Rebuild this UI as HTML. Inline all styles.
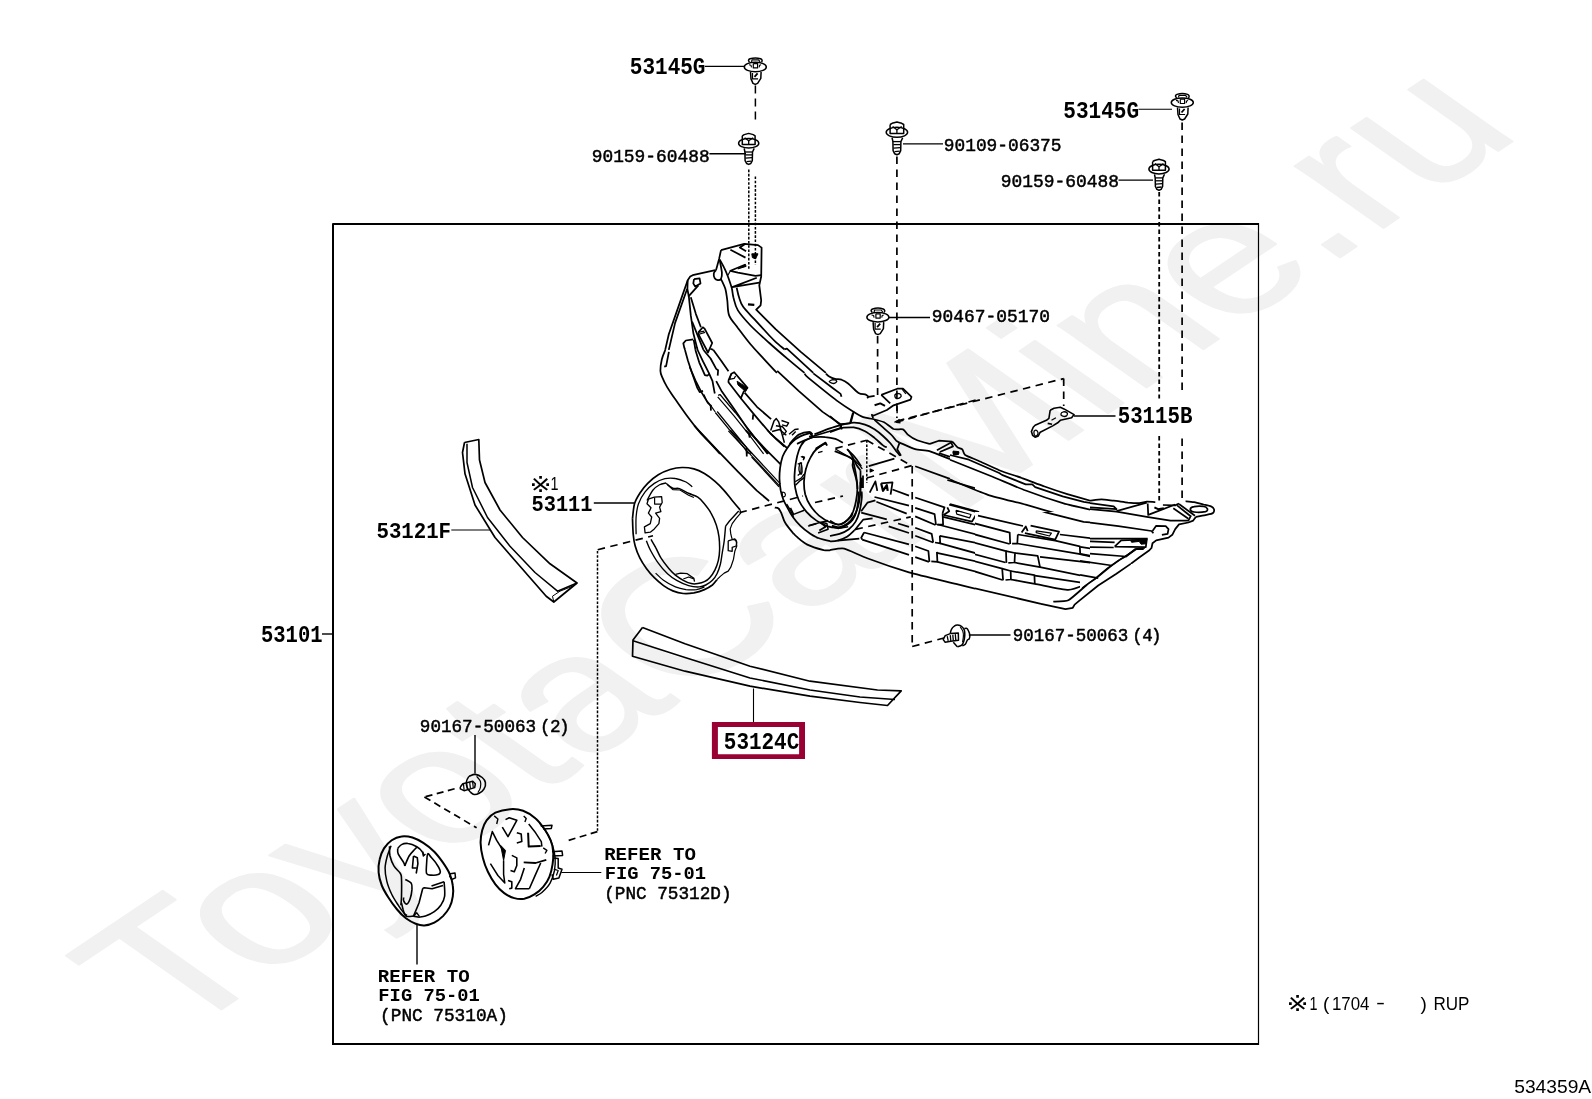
<!DOCTYPE html>
<html><head><meta charset="utf-8"><title>53101 Radiator Grille</title>
<style>
html,body{margin:0;padding:0;background:#fff;}
body{width:1592px;height:1099px;overflow:hidden;position:relative;}
svg{position:absolute;left:0;top:0;display:block;will-change:transform;}
.m{font-family:"Liberation Mono","DejaVu Sans Mono",monospace;font-weight:bold;fill:#000;}
.s{font-family:"Liberation Sans","DejaVu Sans",sans-serif;fill:#000;}
.wm{font-family:"Liberation Sans","DejaVu Sans",sans-serif;fill:#f1f1f1;}
</style></head><body>
<svg width="1592" height="1099" viewBox="0 0 1592 1099" stroke-linejoin="round">
<defs><clipPath id="cT7"><rect x="820" y="470" width="155" height="130"/></clipPath><clipPath id="cT8"><path d="M975 512H1090V564H1080V626H975Z"/></clipPath><clipPath id="cT9"><rect x="1090" y="440" width="160" height="124"/></clipPath><clipPath id="cT10"><rect x="940" y="380" width="150" height="132"/></clipPath></defs>
<text class="wm" font-size="100" stroke="#f1f1f1" stroke-width="1.1" transform="matrix(1.706 -1.147 1.67 1.175 177.2 1039.0)" x="0" y="0">ToyotaCarMine.ru</text>
<path d="M333 1044 V224 H1258.5" fill="none" stroke="#000" stroke-width="2"/>
<path d="M1258.5 223 V1045" fill="none" stroke="#000" stroke-width="1.2"/>
<path d="M332 1044 H1259" fill="none" stroke="#000" stroke-width="2"/>
<text class="m" font-size="23.92" transform="translate(629.85 74.20) scale(0.8781 1)" xml:space="preserve">53145G</text>
<text class="m" font-size="23.92" transform="translate(1063.25 117.50) scale(0.8805 1)" xml:space="preserve">53145G</text>
<text class="m" font-size="23.17" transform="translate(1117.66 423.00) scale(0.8978 1)" xml:space="preserve">53115B</text>
<text class="m" font-size="22.42" transform="translate(531.48 511.00) scale(0.9074 1)" xml:space="preserve">53111</text>
<text class="m" font-size="22.42" transform="translate(376.46 537.50) scale(0.9239 1)" xml:space="preserve">53121F</text>
<text class="m" font-size="23.17" transform="translate(260.97 641.50) scale(0.8856 1)" xml:space="preserve">53101</text>
<text class="m" font-size="23.47" transform="translate(723.85 749.30) scale(0.8924 1)" xml:space="preserve">53124C</text>
<text class="m" font-size="18.83" style="font-weight:normal" stroke="#000" stroke-width="0.5" transform="translate(591.71 161.60) scale(0.9492 1)" xml:space="preserve">90159-60488</text>
<text class="m" font-size="18.98" style="font-weight:normal" stroke="#000" stroke-width="0.5" transform="translate(943.81 150.70) scale(0.9401 1)" xml:space="preserve">90109-06375</text>
<text class="m" font-size="18.98" style="font-weight:normal" stroke="#000" stroke-width="0.5" transform="translate(1000.70 186.60) scale(0.9449 1)" xml:space="preserve">90159-60488</text>
<text class="m" font-size="18.54" style="font-weight:normal" stroke="#000" stroke-width="0.5" transform="translate(931.70 322.40) scale(0.9661 1)" xml:space="preserve">90467-05170</text>
<text class="m" font-size="18.68" style="font-weight:normal" stroke="#000" stroke-width="0.5" transform="translate(1012.82 641.20) scale(0.9369 1)" xml:space="preserve">90167-50063<tspan dx="4.27">(</tspan><tspan dx="-0.64">4</tspan><tspan dx="-1.81">)</tspan></text>
<text class="m" font-size="18.39" style="font-weight:normal" stroke="#000" stroke-width="0.5" transform="translate(419.82 732.30) scale(0.9587 1)" xml:space="preserve">90167-50063<tspan dx="4.17">(</tspan><tspan dx="-0.63">2</tspan><tspan dx="-1.77">)</tspan></text>
<text class="m" font-size="17.45" transform="translate(604.14 859.60) scale(1.0961 1)" xml:space="preserve">REFER TO</text>
<text class="m" font-size="18.39" transform="translate(604.66 879.20) scale(1.0211 1)" xml:space="preserve">FIG 75-01</text>
<text class="m" font-size="17.94" style="font-weight:normal" stroke="#000" stroke-width="0.5" transform="translate(604.22 898.80) scale(0.9862 1)" xml:space="preserve">(PNC 75312D)</text>
<text class="m" font-size="17.45" transform="translate(377.84 982.00) scale(1.0961 1)" xml:space="preserve">REFER TO</text>
<text class="m" font-size="18.39" transform="translate(378.36 1001.30) scale(1.0211 1)" xml:space="preserve">FIG 75-01</text>
<text class="m" font-size="17.94" style="font-weight:normal" stroke="#000" stroke-width="0.5" transform="translate(380.11 1021.30) scale(0.9894 1)" xml:space="preserve">(PNC 75310A)</text>
<text class="s" font-size="19" x="1514.2" y="1092.5" textLength="77" lengthAdjust="spacingAndGlyphs">534359A</text>
<text class="s" font-size="24" transform="translate(1286.6 1011.0) scale(1.1 0.87)">※</text>
<text class="s" font-size="19" x="1309.5" y="1009.8" textLength="8" lengthAdjust="spacingAndGlyphs">1</text>
<text class="s" font-size="19" x="1323" y="1009.5">(</text>
<text class="s" font-size="19" x="1332" y="1009.8" textLength="37.5" lengthAdjust="spacingAndGlyphs">1704</text>
<text class="s" font-size="19" x="1376" y="1008.5" textLength="9" lengthAdjust="spacingAndGlyphs">-</text>
<text class="s" font-size="19" x="1420.5" y="1009.5">)</text>
<text class="s" font-size="19" x="1433.5" y="1009.8" textLength="36" lengthAdjust="spacingAndGlyphs">RUP</text>
<text class="s" font-size="24" transform="translate(529.4 491.5) scale(1.1 0.87)">※</text>
<text class="s" font-size="19" x="550.5" y="489.8" textLength="8" lengthAdjust="spacingAndGlyphs">1</text>
<path d="M704.8 66.4 L744.0 66.4" fill="none" stroke="#000" stroke-width="1.1"/>
<path d="M709.4 153.7 L746.0 153.7" fill="none" stroke="#000" stroke-width="1.4"/>
<path d="M903.0 143.9 L943.0 143.9" fill="none" stroke="#000" stroke-width="1.2"/>
<path d="M1138.5 109.2 L1172.0 109.2" fill="none" stroke="#000" stroke-width="1.1"/>
<path d="M1118.5 180.2 L1153.0 180.2" fill="none" stroke="#000" stroke-width="1.2"/>
<path d="M886.0 317.5 L930.0 317.5" fill="none" stroke="#000" stroke-width="1.4"/>
<path d="M1074.0 415.9 L1115.5 415.9" fill="none" stroke="#000" stroke-width="1.5"/>
<path d="M593.8 503.0 L634.0 503.0" fill="none" stroke="#000" stroke-width="1.3"/>
<path d="M451.3 530.0 L490.0 530.0" fill="none" stroke="#000" stroke-width="1.1"/>
<path d="M322.0 634.0 L333.0 634.0" fill="none" stroke="#000" stroke-width="1.4"/>
<path d="M968.8 635.0 L1010.5 635.0" fill="none" stroke="#000" stroke-width="1.4"/>
<path d="M475.0 735.0 L475.0 773.5" fill="none" stroke="#000" stroke-width="1.4"/>
<path d="M753.5 688.5 L753.5 722.0" fill="none" stroke="#000" stroke-width="1.1"/>
<path d="M561.3 872.5 L601.3 872.5" fill="none" stroke="#000" stroke-width="1.1"/>
<path d="M417.0 925.0 L417.0 964.5" fill="none" stroke="#000" stroke-width="1.4"/>
<path d="M711.9 721.9 H805 V758.9 H711.9 Z M717.9 727 V754.2 H799.1 V727 Z" fill="#990033" fill-rule="evenodd"/>
<path d="M755.4 85.5 L755.4 120.0" fill="none" stroke="#000" stroke-width="1.5" stroke-dasharray="8 5"/>
<path d="M755.4 176.5 L755.4 265.0" fill="none" stroke="#000" stroke-width="1.5" stroke-dasharray="2.6 1.6"/>
<path d="M748.8 169.6 L748.8 270.5" fill="none" stroke="#000" stroke-width="1.5" stroke-dasharray="2.6 1.6"/>
<path d="M896.9 156.5 L896.9 418.0" fill="none" stroke="#000" stroke-width="1.7" stroke-dasharray="7.5 5.5"/>
<path d="M877.6 336.0 L877.6 395.0" fill="none" stroke="#000" stroke-width="1.7" stroke-dasharray="7.5 5.5"/>
<path d="M897.0 421.0 L1063.7 378.6" fill="none" stroke="#000" stroke-width="1.7" stroke-dasharray="7.5 5.5"/>
<path d="M1063.7 378.6 L1063.7 406.0" fill="none" stroke="#000" stroke-width="1.7" stroke-dasharray="7.5 5.5"/>
<path d="M1159.2 192.0 L1159.2 398.5" fill="none" stroke="#000" stroke-width="1.8" stroke-dasharray="4.5 3"/>
<path d="M1159.2 436.0 L1159.2 500.5" fill="none" stroke="#000" stroke-width="1.8" stroke-dasharray="4.5 3"/>
<path d="M1182.1 122.5 L1182.1 393.5" fill="none" stroke="#000" stroke-width="1.7" stroke-dasharray="7.5 5.5"/>
<path d="M1182.1 438.5 L1182.1 498.0" fill="none" stroke="#000" stroke-width="1.7" stroke-dasharray="7.5 5.5"/>
<path d="M642.5 627.5 L633.0 640.0 L632.5 656.2 L685.0 671.2 L750.0 686.2 L810.0 696.2 L860.0 702.5 L887.5 705.5 L901.2 690.8 L877.5 690.0 L810.0 681.2 L750.0 666.2 L685.0 643.8 L642.5 627.5" fill="none" stroke="#000" stroke-width="1.7"/>
<path d="M633.0 640.8 L685.0 657.5 L750.0 678.0 L810.0 690.0 L860.0 697.0 L895.0 699.5" fill="none" stroke="#000" stroke-width="1.6"/>
<path d="M464.5 442.5 L478.8 439.5 L479.5 460.0 L485.0 482.5 L500.0 510.0 L522.5 537.5 L550.0 563.8 L577.0 583.0 L553.8 602.0 L546.2 596.2 L520.0 566.2 L495.0 537.5 L475.0 505.0 L465.0 473.8 L462.5 452.5 L464.5 442.5" fill="none" stroke="#000" stroke-width="1.7"/>
<path d="M467.0 443.8 L467.0 462.5 L472.5 487.5 L487.5 517.5 L510.0 546.2 L535.0 572.5 L557.5 591.2 L577.0 583.0" fill="none" stroke="#000" stroke-width="1.5"/>
<path d="M553.8 602.0 L552.5 596.2 L560.0 591.2 L572.5 586.2" fill="none" stroke="#000" stroke-width="1.0"/>
<path d="M632.5 518.3 C632.9 515.9 633.3 508.0 634.5 503.8 C635.7 499.6 637.6 496.7 639.8 493.3 C642.0 489.9 644.6 486.4 647.7 483.4 C650.8 480.3 654.5 477.1 658.3 474.8 C662.0 472.5 666.2 470.7 670.1 469.5 C674.1 468.3 678.1 467.6 682.0 467.5 C686.0 467.4 690.1 467.9 693.9 468.9 C697.6 469.8 700.9 471.4 704.4 473.5 C708.0 475.6 711.7 478.5 715.0 481.4 C718.3 484.2 721.4 487.4 724.2 490.6 C727.1 493.8 729.5 497.3 732.2 500.5 C734.8 503.7 738.7 508.2 740.1 509.8" fill="none" stroke="#000" stroke-width="1.7"/>
<path d="M740.1 509.8 L740.7 513.1 L736.1 518.3 L732.2 523.6 L730.2 528.9 L730.8 534.2 L732.2 539.4 L736.1 540.1 L736.8 546.0 L734.8 551.3 L733.5 559.2 L730.8 567.2 L728.2 571.1 L724.2 573.1 L720.3 576.4 L717.0 579.7" fill="none" stroke="#000" stroke-width="1.2"/>
<path d="M717.0 579.7 C716.2 580.6 714.4 583.3 712.4 585.0 C710.3 586.6 707.5 588.3 704.4 589.6 C701.4 590.9 697.4 592.2 693.9 592.9 C690.4 593.5 686.9 593.9 683.3 593.5 C679.8 593.2 676.1 592.2 672.8 590.9 C669.5 589.6 666.6 587.8 663.5 585.6 C660.5 583.4 657.2 580.6 654.3 577.7 C651.4 574.8 648.8 571.8 646.4 568.5 C644.0 565.2 641.7 561.7 639.8 557.9 C637.9 554.2 636.3 550.0 635.2 546.0 C634.1 542.1 633.6 538.8 633.2 534.2 C632.8 529.5 632.6 521.0 632.5 518.3" fill="none" stroke="#000" stroke-width="1.7"/>
<path d="M636.1 534.2 C636.1 531.3 635.7 522.1 636.1 517.0 C636.5 512.0 637.0 508.0 638.5 503.8 C640.0 499.6 642.4 495.4 645.1 491.9 C647.7 488.5 651.0 485.6 654.3 483.4 C657.6 481.2 661.3 479.6 664.9 478.7 C668.4 477.9 671.9 477.9 675.4 478.5 C678.9 479.0 683.2 480.7 686.0 482.0 C688.8 483.4 691.2 485.9 692.3 486.7" fill="none" stroke="#000" stroke-width="1.3"/>
<path d="M647.0 500.5 C648.0 498.8 650.9 492.6 653.0 490.0 C655.1 487.3 657.4 485.9 659.6 484.7 C661.8 483.5 665.1 483.3 666.2 483.0" fill="none" stroke="#000" stroke-width="1.3"/>
<path d="M666.2 483.4 C667.3 484.2 670.6 487.4 672.8 488.2 C675.0 489.1 676.7 487.8 679.4 488.6 C682.0 489.5 685.5 491.8 688.6 493.3 C691.7 494.7 695.2 495.5 697.8 497.2 C700.5 499.0 702.2 501.2 704.4 503.8 C706.6 506.5 709.1 509.5 711.0 513.1 C713.0 516.6 715.0 521.0 716.3 524.9 C717.6 528.9 718.4 532.6 719.0 536.8 C719.5 541.0 719.7 546.0 719.6 550.0 C719.5 554.0 719.1 557.3 718.3 560.6 C717.5 563.9 716.4 566.9 715.0 569.8 C713.6 572.6 711.5 575.7 709.7 577.7 C708.0 579.7 706.4 580.7 704.4 581.7 C702.5 582.7 700.0 583.3 697.8 583.6 C695.6 584.0 693.7 584.2 691.2 583.6 C688.8 583.1 686.0 581.8 683.3 580.3 C680.7 578.9 677.8 577.0 675.4 575.1 C673.0 573.1 671.2 571.3 668.8 568.5 C666.4 565.6 663.1 561.4 660.9 557.9 C658.7 554.4 657.3 550.4 655.6 547.4 C654.0 544.3 651.8 540.8 651.0 539.4" fill="none" stroke="#000" stroke-width="1.5"/>
<path d="M646.4 540.8 C647.0 542.3 648.4 546.3 650.3 550.0 C652.3 553.7 655.4 559.2 658.3 563.2 C661.1 567.2 664.4 570.9 667.5 573.7 C670.6 576.6 673.2 578.4 676.7 580.3 C680.3 582.3 684.9 584.5 688.6 585.6 C692.3 586.7 696.3 587.1 699.2 586.9 C702.0 586.8 703.6 586.1 705.8 585.0 C708.0 583.9 710.5 582.2 712.4 580.3 C714.2 578.5 715.7 576.4 717.0 573.7 C718.3 571.1 719.4 568.0 720.3 564.5 C721.2 561.0 721.6 556.6 722.3 552.6 C722.9 548.7 723.7 545.2 724.2 540.8 C724.8 536.4 725.3 528.7 725.6 526.2" fill="none" stroke="#000" stroke-width="1.4"/>
<path d="M725.6 526.2 L729.5 521.0 L738.7 511.1" fill="none" stroke="#000" stroke-width="1.4"/>
<path d="M655.6 573.1 C656.9 574.3 660.2 578.0 663.5 580.3 C666.8 582.7 671.7 585.4 675.4 586.9 C679.2 588.5 682.5 589.1 686.0 589.6 C689.5 590.0 693.4 590.0 696.5 589.6 C699.6 589.1 703.1 587.4 704.4 586.9" fill="none" stroke="#000" stroke-width="1.2"/>
<path d="M648.4 499.2 L654.3 497.2 L661.6 496.6 L662.2 502.5 L659.6 507.1 L660.9 511.7 L655.6 513.1 L659.6 518.3 L658.9 523.6 L654.3 528.9 L650.3 532.2 L645.1 532.8 L644.4 526.9 L650.3 523.6 L651.7 517.0 L648.4 513.1 L651.0 507.8 L647.0 503.8 L648.4 499.2" fill="none" stroke="#000" stroke-width="1.3"/>
<path d="M654.6 497.5 L654.6 504.1 L661.2 504.1" fill="none" stroke="#000" stroke-width="1.2"/>
<path d="M675.4 574.4 L680.7 573.1 L687.3 573.7 L693.9 578.4 L694.5 581.7" fill="none" stroke="#000" stroke-width="1.3"/>
<path d="M683.3 579.0 L688.6 577.0 L693.9 579.0" fill="none" stroke="#000" stroke-width="1.2"/>
<path d="M728.2 540.8 L734.8 538.8 L736.8 542.1 L736.1 546.0 L732.2 547.4 L732.2 551.3 L728.2 550.7 L728.2 540.8" fill="none" stroke="#000" stroke-width="1.3"/>
<path d="M667.5 484.7 L672.8 489.6 L680.0 490.0 L688.6 495.2 L693.9 497.5" fill="none" stroke="#000" stroke-width="1.2"/>
<path d="M510.5 809.2 C515.1 808.9 518.9 809.3 523.1 810.8 C527.3 812.4 532.1 815.3 535.6 818.4 C539.2 821.4 541.9 825.4 544.4 829.0 C546.9 832.7 549.2 836.6 550.7 840.4 C552.2 844.1 552.9 847.7 553.2 851.7 C553.5 855.6 553.2 860.0 552.6 864.2 C552.0 868.4 551.0 873.0 549.4 876.8 C547.9 880.6 545.7 883.9 543.2 886.8 C540.7 889.8 537.5 892.4 534.4 894.4 C531.2 896.4 527.7 898.1 524.3 898.8 C521.0 899.4 517.6 899.1 514.3 898.1 C510.9 897.2 507.4 895.4 504.2 893.1 C501.1 890.8 498.1 887.9 495.4 884.3 C492.7 880.8 490.0 876.2 487.9 871.8 C485.8 867.4 484.1 862.8 482.9 857.9 C481.6 853.1 480.7 847.5 480.6 842.9 C480.5 838.3 481.2 834.1 482.2 830.3 C483.2 826.5 484.4 823.2 486.6 820.3 C488.8 817.3 491.4 814.6 495.4 812.7 C499.4 810.9 505.9 809.5 510.5 809.2 Z" fill="none" stroke="#000" stroke-width="2.0"/>
<path d="M539.4 822.8 C540.7 824.4 544.7 829.0 546.9 832.8 C549.1 836.6 551.2 841.2 552.6 845.4 C553.9 849.6 554.8 853.8 555.1 857.9 C555.4 862.1 555.3 866.3 554.5 870.5 C553.6 874.7 552.2 879.4 550.1 883.1 C548.0 886.7 544.3 890.3 541.9 892.5 C539.5 894.7 536.7 895.6 535.6 896.3" fill="none" stroke="#000" stroke-width="1.4"/>
<path d="M488.5 845.4 L492.3 831.6 L496.7 840.4 L503.0 850.4" fill="none" stroke="#000" stroke-width="1.6"/>
<path d="M500.7 845.4 L505.5 850.4 L503.6 860.5 Z" fill="#000" stroke="#000" stroke-width="1.0"/>
<path d="M503.6 860.5 L503.6 874.3 L504.8 883.1 L497.9 875.5 L490.4 863.6" fill="none" stroke="#000" stroke-width="1.5"/>
<path d="M502.3 827.2 L508.0 836.6 L516.8 820.3 L509.2 817.7 L505.5 819.6" fill="none" stroke="#000" stroke-width="1.6"/>
<path d="M516.8 832.8 L521.2 834.1 L521.8 841.6 L516.8 842.9" fill="none" stroke="#000" stroke-width="1.6"/>
<path d="M528.1 832.8 L528.7 846.6 L540.7 846.0" fill="none" stroke="#000" stroke-width="2.0"/>
<path d="M528.7 824.0 L535.6 832.8 L541.3 841.6 L541.9 846.6" fill="none" stroke="#000" stroke-width="1.5"/>
<path d="M511.8 855.4 L516.8 857.9 L516.8 865.5 L514.3 871.8 L510.5 870.5" fill="none" stroke="#000" stroke-width="1.6"/>
<path d="M523.7 862.3 L535.6 863.0 L546.3 859.8" fill="none" stroke="#000" stroke-width="1.8"/>
<path d="M540.7 863.0 L535.6 874.3 L529.3 888.7" fill="none" stroke="#000" stroke-width="1.6"/>
<path d="M524.3 868.0 L520.6 879.3 L515.5 888.7 L529.3 888.7" fill="none" stroke="#000" stroke-width="1.6"/>
<path d="M508.0 880.6 L511.8 881.8 L511.8 888.1 L509.2 888.7" fill="none" stroke="#000" stroke-width="1.6"/>
<path d="M494.2 815.9 L497.9 819.0 L496.7 824.0" fill="none" stroke="#000" stroke-width="1.4"/>
<path d="M523.7 815.9 L526.2 818.4 L524.9 822.1" fill="none" stroke="#000" stroke-width="1.4"/>
<path d="M543.2 847.9 L546.9 850.4 L545.1 853.5" fill="none" stroke="#000" stroke-width="1.4"/>
<path d="M540.7 825.9 L552.0 825.3 L551.3 828.4 L543.2 829.0" fill="none" stroke="#000" stroke-width="1.5"/>
<path d="M552.0 851.7 L562.0 851.0 L562.6 855.4 L552.6 856.1" fill="none" stroke="#000" stroke-width="1.5"/>
<path d="M553.2 857.9 L558.2 858.6 L558.2 868.0 L562.0 869.2 L558.9 878.0 L553.2 879.3 L552.0 874.3" fill="none" stroke="#000" stroke-width="1.5"/>
<path d="M553.8 869.2 L558.2 870.5 L556.4 875.5" fill="none" stroke="#000" stroke-width="1.2"/>
<path d="M469.0 776.3 C470.1 776.0 473.1 774.2 475.3 774.4 C477.5 774.6 480.6 776.2 482.2 777.5 C483.9 778.9 485.1 780.7 485.4 782.6 C485.7 784.4 485.2 787.1 484.1 788.8 C483.1 790.6 480.8 792.3 479.1 793.2 C477.4 794.2 475.5 794.7 474.1 794.5 C472.6 794.3 470.9 792.4 470.3 792.0" fill="none" stroke="#000" stroke-width="1.6"/>
<path d="M469.0 776.3 C468.6 777.1 466.8 779.4 466.5 781.3 C466.2 783.2 466.5 785.8 467.2 787.6 C467.8 789.4 469.8 791.3 470.3 792.0" fill="none" stroke="#000" stroke-width="1.5"/>
<path d="M476.6 776.3 C477.2 777.1 479.7 779.4 480.4 781.3 C481.0 783.2 480.8 785.7 480.4 787.6 C479.9 789.5 478.3 791.8 477.8 792.6" fill="none" stroke="#000" stroke-width="1.2"/>
<path d="M460.3 787.0 L462.8 783.8 L472.8 781.3 L475.3 783.8 L474.7 787.6 L464.0 790.7 L460.3 788.8 L460.3 787.0" fill="none" stroke="#000" stroke-width="1.5"/>
<path d="M463.4 783.4 L464.1 789.9" fill="none" stroke="#000" stroke-width="1.2"/>
<path d="M466.5 782.8 L467.3 789.2" fill="none" stroke="#000" stroke-width="1.2"/>
<path d="M469.7 782.2 L470.4 788.4" fill="none" stroke="#000" stroke-width="1.2"/>
<path d="M472.6 781.6 L473.3 787.7" fill="none" stroke="#000" stroke-width="1.2"/>
<path d="M454.6 788.8 L424.4 797.0" fill="none" stroke="#000" stroke-width="1.7" stroke-dasharray="7 4.5"/>
<path d="M424.4 797.0 L476.6 827.8" fill="none" stroke="#000" stroke-width="1.7" stroke-dasharray="7 4.5"/>
<path d="M597.4 831.6 L564.5 841.6" fill="none" stroke="#000" stroke-width="1.7" stroke-dasharray="7 4.5"/>
<path d="M401.5 836.4 C405.0 835.9 408.8 836.4 412.4 837.5 C416.1 838.6 419.7 840.6 423.3 842.9 C427.0 845.3 431.0 848.4 434.3 851.7 C437.5 854.9 440.4 858.9 443.0 862.6 C445.5 866.2 447.9 869.7 449.5 873.5 C451.2 877.3 452.3 881.7 452.8 885.5 C453.4 889.3 453.4 892.8 452.8 896.4 C452.3 900.1 451.2 904.1 449.5 907.4 C447.9 910.6 445.5 913.5 443.0 916.1 C440.4 918.6 437.3 921.1 434.3 922.6 C431.2 924.2 427.5 925.2 424.4 925.4 C421.3 925.6 418.8 924.9 415.7 923.7 C412.6 922.6 409.0 920.6 405.9 918.3 C402.8 915.9 400.0 913.0 397.1 909.5 C394.2 906.1 390.9 901.5 388.4 897.5 C385.8 893.5 383.5 889.7 381.8 885.5 C380.2 881.3 378.9 876.8 378.6 872.4 C378.2 868.0 378.7 863.3 379.7 859.3 C380.6 855.3 382.0 851.6 384.0 848.4 C386.0 845.2 388.8 842.2 391.7 840.2 C394.6 838.2 398.0 836.8 401.5 836.4 Z" fill="none" stroke="#000" stroke-width="2.0"/>
<path d="M391.1 845.7 C390.5 847.4 388.3 852.3 387.3 856.0 C386.3 859.8 385.2 863.9 385.1 868.0 C385.0 872.2 385.7 876.8 386.8 881.1 C387.8 885.5 389.8 890.2 391.7 894.3 C393.6 898.3 396.2 902.1 398.2 905.2 C400.2 908.3 402.2 911.1 403.7 912.8 C405.1 914.5 406.4 915.1 407.0 915.5" fill="none" stroke="#000" stroke-width="1.5"/>
<path d="M397.7 848.4 C398.3 847.8 399.8 845.4 401.5 844.6 C403.2 843.7 405.5 843.1 408.0 843.5 C410.6 843.8 414.4 845.4 416.8 846.8 C419.1 848.1 421.1 850.1 422.2 851.7 C423.4 853.2 423.6 855.3 423.9 856.0" fill="none" stroke="#000" stroke-width="1.6"/>
<path d="M397.7 848.4 C397.8 849.3 397.2 851.5 398.2 853.9 C399.2 856.2 402.6 860.6 403.7 862.6 C404.8 864.6 404.6 865.3 404.8 865.9" fill="none" stroke="#000" stroke-width="1.6"/>
<path d="M404.8 865.9 C405.5 864.2 407.5 858.8 409.1 856.0 C410.8 853.3 413.3 850.9 414.6 849.5 C415.9 848.0 416.4 847.7 416.8 847.3" fill="none" stroke="#000" stroke-width="1.6"/>
<path d="M389.5 846.2 C389.6 847.8 389.3 852.8 390.0 856.0 C390.8 859.3 392.1 862.9 393.9 865.9 C395.6 868.8 399.1 871.3 400.4 873.5 C401.7 875.7 401.3 875.1 401.5 879.0 C401.7 882.8 401.6 892.1 401.5 896.4 C401.4 900.8 401.0 903.7 400.9 905.2" fill="none" stroke="#000" stroke-width="1.6"/>
<path d="M405.3 879.5 C406.3 880.1 410.2 881.6 411.3 883.3 C412.4 885.1 412.0 887.3 411.9 889.9 C411.7 892.4 411.0 896.3 410.2 898.6 C409.4 901.0 408.0 903.7 407.0 904.1 C405.9 904.4 404.2 901.9 403.7 900.8 C403.1 899.7 403.7 898.1 403.7 897.5" fill="none" stroke="#000" stroke-width="1.6"/>
<path d="M413.5 856.0 L417.3 857.7 L417.9 863.7 L416.2 873.5" fill="none" stroke="#000" stroke-width="1.6"/>
<path d="M413.5 856.0 L412.4 868.0 L416.8 868.0" fill="none" stroke="#000" stroke-width="1.6"/>
<path d="M427.7 853.9 C427.0 854.9 426.8 860.4 426.6 863.7 C426.4 867.0 425.9 871.6 426.6 873.5 C427.3 875.4 429.1 875.0 431.0 875.1 C432.9 875.3 436.5 875.2 438.1 874.6 C439.6 874.0 440.5 873.1 440.3 871.3 C440.0 869.5 438.0 866.0 436.4 863.7 C434.9 861.3 432.4 858.8 431.0 857.1 C429.5 855.5 428.4 852.8 427.7 853.9 Z" fill="none" stroke="#000" stroke-width="1.6"/>
<path d="M422.8 851.7 L423.3 856.0 L425.5 853.9" fill="none" stroke="#000" stroke-width="1.4"/>
<path d="M444.1 881.7 C444.2 884.2 445.2 892.5 444.6 896.4 C444.1 900.3 442.5 902.6 440.8 905.2 C439.1 907.7 436.8 909.9 434.3 911.7 C431.7 913.5 428.1 915.2 425.5 916.1 C423.0 917.0 420.1 917.0 419.0 917.2" fill="none" stroke="#000" stroke-width="1.6"/>
<path d="M431.5 886.1 L444.1 881.7" fill="none" stroke="#000" stroke-width="1.6"/>
<path d="M422.8 888.2 L424.4 887.7 L432.1 888.8 L443.0 885.5" fill="none" stroke="#000" stroke-width="1.6"/>
<path d="M422.8 888.2 L419.0 903.0 L413.5 916.1 L419.0 917.2" fill="none" stroke="#000" stroke-width="1.6"/>
<path d="M413.5 916.1 C412.2 916.1 407.6 917.2 405.9 916.1 C404.1 915.0 403.9 911.7 403.1 909.5 C402.4 907.4 401.8 904.1 401.5 903.0" fill="none" stroke="#000" stroke-width="1.6"/>
<path d="M413.5 916.1 L416.8 912.8 L419.5 916.6" fill="none" stroke="#000" stroke-width="1.4"/>
<path d="M449.0 874.1 L455.0 873.0 L455.5 877.9 L451.7 879.5 L449.5 875.7" fill="none" stroke="#000" stroke-width="1.5"/>
<path d="M597.5 551.0 L597.5 831.0" fill="none" stroke="#000" stroke-width="1.5" stroke-dasharray="2.6 1.6"/>
<path d="M597.7 549.7 L653.0 535.8" fill="none" stroke="#000" stroke-width="1.7" stroke-dasharray="7.5 5.5"/>
<path d="M739.5 512.6 L803.0 496.0" fill="none" stroke="#000" stroke-width="1.7" stroke-dasharray="7.5 5.5"/>
<path d="M815.0 502.5 L843.0 496.0" fill="none" stroke="#000" stroke-width="1.7" stroke-dasharray="7.5 5.5"/>
<path d="M835.4 448.4 L866.8 440.2" fill="none" stroke="#000" stroke-width="1.7" stroke-dasharray="7.5 5.5"/>
<path d="M866.8 440.2 L912.0 466.0" fill="none" stroke="#000" stroke-width="1.7" stroke-dasharray="7.5 5.5"/>
<path d="M866.8 440.2 L866.8 483.0" fill="none" stroke="#000" stroke-width="1.5" stroke-dasharray="2.6 1.6"/>
<path d="M866.8 478.0 L912.0 465.5" fill="none" stroke="#000" stroke-width="1.7" stroke-dasharray="7.5 5.5"/>
<path d="M912.2 466.0 L912.2 646.0" fill="none" stroke="#000" stroke-width="1.7" stroke-dasharray="7.5 5.5"/>
<path d="M912.2 646.5 L944.0 638.0" fill="none" stroke="#000" stroke-width="1.7" stroke-dasharray="7.5 5.5"/>
<path d="M855.5 529.4 L910.8 516.8" fill="none" stroke="#000" stroke-width="1.7" stroke-dasharray="7.5 5.5"/>
<path d="M809.0 525.6 L828.0 520.6" fill="none" stroke="#000" stroke-width="1.7" stroke-dasharray="7.5 5.5"/>
<path d="M715.3 270.2 L692.7 275.2 L690.2 276.5 L687.7 280.2 L678.9 305.4 L668.8 334.2 L665.2 349.9" fill="none" stroke="#000" stroke-width="1.75"/>
<path d="M687.1 289.0 L675.1 322.9 L668.8 349.9" fill="none" stroke="#000" stroke-width="1.75"/>
<path d="M694.0 279.2 L699.6 278.3 L700.5 283.4 L695.2 286.5 L693.3 283.4 L694.0 279.2" fill="none" stroke="#000" stroke-width="1.75"/>
<path d="M698.4 285.3 L688.3 296.6" fill="none" stroke="#000" stroke-width="1.75"/>
<path d="M687.7 280.2 L687.4 289.0 L688.9 297.2 L690.8 315.4 L693.3 333.0 L697.1 348.1 L697.6 349.9" fill="none" stroke="#000" stroke-width="1.75"/>
<path d="M690.8 297.2 L695.9 314.1 L700.9 327.3" fill="none" stroke="#000" stroke-width="1.75"/>
<path d="M698.4 332.4 L702.8 327.3 L704.6 328.6 L712.2 343.0 L708.0 352.5 L698.4 334.2 L698.4 332.4" fill="none" stroke="#000" stroke-width="1.75"/>
<path d="M698.4 332.4 L704.3 331.1" fill="none" stroke="#000" stroke-width="1.2"/>
<path d="M699.0 334.2 L705.0 332.4" fill="none" stroke="#000" stroke-width="1.2"/>
<path d="M693.3 339.3 L685.8 340.5 L683.3 343.3 L684.2 347.4 L685.1 349.9" fill="none" stroke="#000" stroke-width="1.75"/>
<path d="M693.7 339.9 L695.5 349.9" fill="none" stroke="#000" stroke-width="1.75"/>
<path d="M710.3 348.7 L713.4 349.9" fill="none" stroke="#000" stroke-width="1.75"/>
<path d="M692.1 321.7 L703.5 349.9" fill="none" stroke="#000" stroke-width="1.75"/>
<path d="M721.0 250.1 L744.2 243.8 L758.0 245.1 L761.6 247.6 L761.2 276.5 L759.3 285.3 L761.2 300.3 L760.6 305.4 L756.2 309.7 L775.6 329.2 L800.8 351.8 L825.9 372.9" fill="none" stroke="#000" stroke-width="1.75"/>
<path d="M721.0 250.1 L719.1 258.9 L716.0 270.2" fill="none" stroke="#000" stroke-width="1.75"/>
<path d="M716.0 270.2 C715.6 270.7 714.0 272.0 713.8 273.3 C713.6 274.7 714.0 277.2 714.7 278.3 C715.4 279.5 716.8 280.1 717.8 280.2 C718.9 280.3 720.3 280.2 721.0 279.0 C721.6 277.7 722.1 275.8 721.9 272.7 C721.6 269.5 720.1 262.2 719.7 260.1" fill="none" stroke="#000" stroke-width="1.75"/>
<path d="M719.7 259.5 C720.5 260.9 722.8 264.8 724.1 267.7 C725.5 270.5 726.6 273.1 727.9 276.5 C729.1 279.8 730.7 284.2 731.7 287.8 C732.6 291.3 732.5 294.0 733.5 297.8 C734.6 301.6 735.1 305.8 737.9 310.4 C740.8 315.0 745.3 320.0 750.5 325.5 C755.7 330.9 763.1 337.4 769.3 343.0 C775.6 348.7 782.3 354.4 788.2 359.4 C794.1 364.4 801.8 370.7 804.5 372.9" fill="none" stroke="#000" stroke-width="1.75"/>
<path d="M721.0 279.0 C721.7 280.6 724.3 285.5 725.4 289.0 C726.4 292.6 726.6 295.9 727.3 300.3 C727.9 304.7 727.4 310.8 729.1 315.4 C730.9 320.0 734.4 323.1 737.9 328.0 C741.5 332.8 746.3 339.3 750.5 344.3 C754.7 349.3 758.7 353.3 763.1 358.1 C767.5 362.9 774.6 370.5 776.9 372.9" fill="none" stroke="#000" stroke-width="1.75"/>
<path d="M730.4 249.8 L745.5 257.6" fill="none" stroke="#000" stroke-width="1.75"/>
<path d="M745.5 243.8 L739.8 247.6 L746.1 251.3" fill="none" stroke="#000" stroke-width="1.75"/>
<path d="M745.5 264.5 L730.4 270.8 L737.9 272.7 L755.5 275.8 L761.2 275.2" fill="none" stroke="#000" stroke-width="1.75"/>
<path d="M756.8 277.7 L732.3 287.1 L759.3 282.7" fill="none" stroke="#000" stroke-width="1.75"/>
<path d="M727.9 275.2 L730.4 270.8" fill="none" stroke="#000" stroke-width="1.2"/>
<path d="M736.7 287.8 C737.1 289.4 738.1 294.7 739.2 297.8 C740.2 301.0 740.5 303.0 743.0 306.6 C745.5 310.2 749.9 314.4 754.3 319.2 C758.7 324.0 765.8 331.7 769.3 335.5 C772.9 339.3 773.1 339.5 775.6 341.8 C778.1 344.1 783.0 348.1 784.4 349.3" fill="none" stroke="#000" stroke-width="1.75"/>
<path d="M784.4 349.3 L786.9 348.7 L813.3 372.9" fill="none" stroke="#000" stroke-width="1.75"/>
<path d="M748.0 304.3 L754.3 304.8" fill="none" stroke="#000" stroke-width="2.2"/>
<path d="M751.8 253.8 L758.0 253.8 L755.5 258.9 L752.4 257.6 Z" fill="#000" stroke="#000" stroke-width="1"/>
<path d="M737.9 268.9 L745.5 264.5 L746.1 266.4 Z" fill="#000" stroke="#000" stroke-width="1"/>
<path d="M665.3 350.0 C664.7 351.6 662.6 356.0 661.8 359.5 C661.0 362.9 660.3 367.8 660.4 370.8 C660.5 373.8 661.2 374.8 662.3 377.4 C663.4 380.1 665.0 383.4 667.0 386.9 C669.1 390.4 671.5 393.7 674.6 398.3 C677.8 402.8 681.9 408.8 686.0 414.4 C690.1 419.9 694.8 426.2 699.2 431.4 C703.6 436.6 709.0 441.8 712.5 445.6 C715.9 449.3 718.8 452.5 720.0 453.9" fill="none" stroke="#000" stroke-width="1.75"/>
<path d="M668.9 351.9 L666.1 366.1 L664.2 366.6" fill="none" stroke="#000" stroke-width="1.75"/>
<path d="M685.0 350.0 L687.9 360.4 L691.6 371.8 L697.3 387.9 L699.7 392.1 L703.0 390.9" fill="none" stroke="#000" stroke-width="1.75"/>
<path d="M689.7 367.0 L695.4 380.3 L701.1 391.6 L706.8 401.1 L711.5 406.8" fill="none" stroke="#000" stroke-width="1.75"/>
<path d="M695.4 350.0 L699.2 362.3 L704.9 375.1 L707.3 375.7 L709.6 373.8" fill="none" stroke="#000" stroke-width="1.75"/>
<path d="M697.6 350.0 L703.0 361.4 L708.7 372.7 L712.5 381.2 L714.4 391.6 L714.8 393.5" fill="none" stroke="#000" stroke-width="1.75"/>
<path d="M703.5 350.0 L710.6 358.5 L716.2 368.9 L718.1 370.3 L717.7 375.6" fill="none" stroke="#000" stroke-width="1.75"/>
<path d="M716.2 381.2 L721.9 391.6 L735.2 410.6 L749.4 431.4 L768.3 453.9" fill="none" stroke="#000" stroke-width="1.75"/>
<path d="M713.4 350.0 L721.0 360.4 L728.5 371.3" fill="none" stroke="#000" stroke-width="1.75"/>
<path d="M728.5 380.3 L731.4 373.7 L734.2 372.2 L747.5 387.9 L743.7 391.6 L740.8 398.3 L728.5 382.2 L728.5 380.3" fill="none" stroke="#000" stroke-width="1.75"/>
<path d="M737.1 381.2 L747.5 387.9 L745.6 391.6 L738.0 385.0 Z" fill="#000" stroke="#000" stroke-width="1"/>
<path d="M731.4 373.7 L729.5 379.3 L734.2 378.4 L735.6 376.0" fill="none" stroke="#000" stroke-width="1.2"/>
<path d="M744.6 392.6 L756.9 406.8 L771.1 419.1" fill="none" stroke="#000" stroke-width="1.75"/>
<path d="M740.8 398.3 L753.2 413.4 L770.2 433.3 L784.4 446.5" fill="none" stroke="#000" stroke-width="1.75"/>
<path d="M753.2 414.4 L752.7 419.6" fill="none" stroke="#000" stroke-width="1.75"/>
<path d="M718.1 395.4 L720.0 394.5 L735.2 412.5 L750.3 431.4 L767.3 453.9" fill="none" stroke="#000" stroke-width="1.2"/>
<path d="M717.7 396.8 L734.2 416.2 L749.4 435.2 L763.6 453.9" fill="none" stroke="#000" stroke-width="1.2"/>
<path d="M749.4 433.3 L749.8 437.1" fill="none" stroke="#000" stroke-width="1.75"/>
<path d="M715.3 412.5 L744.6 448.4 L748.4 453.9" fill="none" stroke="#000" stroke-width="1.2"/>
<path d="M717.2 411.5 L746.5 447.5 L751.3 453.9" fill="none" stroke="#000" stroke-width="1.2"/>
<path d="M710.6 404.9 L711.0 410.6" fill="none" stroke="#000" stroke-width="1.75"/>
<path d="M703.9 394.5 L707.7 403.0 L710.6 405.4 L715.3 412.0" fill="none" stroke="#000" stroke-width="1.2"/>
<path d="M825.9 373.6 C826.4 374.1 827.7 375.6 829.2 376.4 C830.7 377.3 832.8 378.2 834.9 378.8 C836.9 379.4 839.3 379.0 841.5 379.7 C843.7 380.5 845.3 381.3 848.1 383.5 C851.0 385.7 855.7 391.2 858.5 393.0 C861.4 394.8 863.5 393.8 865.2 394.4 C866.8 395.0 867.9 396.4 868.5 396.8" fill="none" stroke="#000" stroke-width="1.75"/>
<path d="M867.1 398.2 L868.5 396.8 L874.6 395.8" fill="none" stroke="#000" stroke-width="1.75"/>
<path d="M813.3 373.4 L833.0 388.3 L840.6 393.9 L841.5 396.8" fill="none" stroke="#000" stroke-width="1.75"/>
<path d="M804.5 373.6 C805.0 374.1 804.6 374.7 808.4 377.9 C812.2 381.0 831.5 396.6 836.8 400.6 C842.1 404.5 850.7 410.0 853.8 411.9 C856.9 413.9 861.1 416.3 863.3 417.1 C865.5 418.0 870.3 418.4 872.7 419.0 C875.2 419.6 881.7 421.2 884.1 422.3 C886.5 423.5 891.4 428.1 893.6 429.0 C895.8 429.8 901.4 428.8 903.0 429.4 C904.7 430.1 906.1 433.4 907.8 434.6 C909.4 435.9 914.6 439.2 917.2 440.3 C919.8 441.4 928.5 443.5 930.0 443.9" fill="none" stroke="#000" stroke-width="1.75"/>
<path d="M829.2 381.6 C829.1 381.0 831.7 379.8 833.0 379.7 C834.3 379.7 836.6 380.5 836.8 381.2 C836.9 381.8 835.2 383.5 833.9 383.5 C832.7 383.6 829.4 382.3 829.2 381.6 Z" fill="none" stroke="#000" stroke-width="1.3"/>
<path d="M777.2 370.8 L798.9 391.1 L822.6 411.9 L840.6 424.2 L850.0 423.3 L852.9 412.9" fill="none" stroke="#000" stroke-width="1.75"/>
<path d="M840.6 424.2 L840.6 428.0 L812.2 436.5 L809.3 431.8" fill="none" stroke="#000" stroke-width="1.75"/>
<path d="M881.3 394.9 L897.3 388.7 L903.0 388.7 L911.5 396.8 L910.6 399.6 L893.6 405.3 L886.9 410.0 L873.2 415.7 L871.8 414.8 L873.2 418.5" fill="none" stroke="#000" stroke-width="1.75"/>
<path d="M881.3 394.9 L890.2 403.4" fill="none" stroke="#000" stroke-width="1.75"/>
<path d="M902.1 389.2 L905.9 393.9" fill="none" stroke="#000" stroke-width="1.2"/>
<path d="M895.0 394.9 C895.4 394.1 897.3 393.4 898.3 393.5 C899.3 393.5 900.9 394.6 901.1 395.4 C901.4 396.1 900.6 397.4 899.7 397.9 C898.8 398.4 896.7 398.7 895.9 398.2 C895.1 397.7 894.6 395.7 895.0 394.9 Z" fill="none" stroke="#000" stroke-width="1.4"/>
<path d="M874.6 405.3 L880.3 403.4 L885.0 405.8" fill="none" stroke="#000" stroke-width="2.0"/>
<path d="M894.5 422.3 L897.1 420.9 L899.2 421.4" fill="none" stroke="#000" stroke-width="1.4"/>
<path d="M897.1 406.2 L897.1 413.8" fill="none" stroke="#000" stroke-width="1.5" stroke-dasharray="7 3"/>
<path d="M789.5 443.9 C791.0 442.4 795.6 436.7 798.9 434.6 C802.2 432.6 807.0 431.8 809.3 431.8 C811.6 431.8 812.1 434.2 812.6 434.6" fill="none" stroke="#000" stroke-width="1.75"/>
<path d="M797.0 443.9 L804.6 440.3 L812.2 437.5" fill="none" stroke="#000" stroke-width="1.75"/>
<path d="M810.3 432.9 C808.6 433.5 803.1 435.0 800.2 436.4 C797.3 437.9 794.9 439.5 792.7 441.5 C790.5 443.4 788.7 445.9 787.0 448.4 C785.3 450.9 783.8 453.3 782.6 456.5 C781.5 459.8 780.6 464.1 780.1 467.8 C779.6 471.6 779.4 475.4 779.5 479.1 C779.6 482.9 780.1 487.1 780.7 490.5 C781.4 493.8 782.2 496.5 783.2 499.2 C784.3 502.0 785.4 503.9 787.0 506.8 C788.6 509.7 790.5 513.7 792.7 516.8 C794.9 520.0 797.3 522.8 800.2 525.6 C803.1 528.5 807.3 531.7 810.3 533.8 C813.2 535.8 816.5 537.2 817.8 537.9" fill="none" stroke="#000" stroke-width="1.75"/>
<path d="M809.0 436.4 L812.8 437.1 L810.3 432.9" fill="none" stroke="#000" stroke-width="1.75"/>
<path d="M812.8 437.1 C811.3 437.8 806.3 439.3 804.0 441.5 C801.7 443.7 800.3 446.7 798.9 450.3 C797.6 453.8 796.5 458.6 795.8 462.8 C795.1 467.0 794.7 471.2 794.5 475.4 C794.4 479.6 794.4 483.8 795.2 487.9 C795.9 492.1 797.1 496.5 798.9 500.5 C800.8 504.5 803.6 508.5 806.5 511.8 C809.4 515.2 813.0 518.2 816.5 520.6 C820.1 523.0 824.3 525.1 827.8 526.3 C831.4 527.4 834.5 528.0 837.9 527.5 C841.2 527.0 845.2 525.1 847.9 523.1 C850.7 521.1 852.5 518.3 854.2 515.6 C855.9 512.9 857.0 509.9 858.0 506.8 C858.9 503.6 859.5 500.9 859.9 496.7 C860.3 492.5 860.4 484.2 860.5 481.7" fill="none" stroke="#000" stroke-width="1.75"/>
<path d="M812.8 437.1 C814.9 437.1 821.6 436.7 825.3 437.1 C829.1 437.4 832.4 438.0 835.4 438.9 C838.3 439.9 841.7 442.1 842.9 442.7" fill="none" stroke="#000" stroke-width="1.75"/>
<path d="M825.3 443.3 C823.9 444.3 819.0 446.6 816.5 449.0 C814.0 451.4 812.0 454.4 810.3 457.8 C808.5 461.1 806.9 465.1 805.9 469.1 C804.8 473.1 804.1 477.5 804.0 481.7 C803.9 485.8 804.2 490.2 805.2 494.2 C806.3 498.2 807.9 502.0 810.3 505.5 C812.6 509.1 815.7 512.8 819.0 515.6 C822.4 518.4 826.8 521.0 830.4 522.5 C833.9 524.0 837.5 524.9 840.4 524.4 C843.3 523.8 845.8 521.4 847.9 519.3 C850.0 517.3 851.6 514.9 853.0 511.8 C854.3 508.7 855.4 504.5 856.1 500.5 C856.8 496.5 857.4 492.1 857.4 487.9 C857.4 483.8 856.7 479.6 856.1 475.4 C855.5 471.2 854.2 465.7 853.6 462.8 C853.0 459.9 852.5 458.6 852.3 457.8" fill="none" stroke="#000" stroke-width="1.75"/>
<path d="M847.9 449.6 C848.8 451.0 851.5 455.2 853.0 457.8 C854.4 460.4 855.5 463.2 856.7 465.3 C858.0 467.4 859.9 469.5 860.5 470.4" fill="none" stroke="#000" stroke-width="1.75"/>
<path d="M840.4 423.9 L841.7 429.5" fill="none" stroke="#000" stroke-width="1.75"/>
<path d="M800.8 456.5 L804.0 457.8 L803.3 460.3" fill="none" stroke="#000" stroke-width="1.3"/>
<path d="M797.7 464.1 L801.5 462.8 L800.8 472.9 L797.7 475.4" fill="none" stroke="#000" stroke-width="1.3"/>
<path d="M795.2 481.7 L801.5 477.9 L804.0 474.1" fill="none" stroke="#000" stroke-width="1.3"/>
<path d="M815.3 450.3 L825.3 443.3 L826.6 445.2" fill="none" stroke="#000" stroke-width="1.3"/>
<path d="M835.4 449.0 L850.5 457.8 L853.0 460.3" fill="none" stroke="#000" stroke-width="1.3"/>
<path d="M860.5 470.4 L860.5 495.5" fill="none" stroke="#000" stroke-width="1.75"/>
<path d="M863.0 475.4 L863.0 487.9" fill="none" stroke="#000" stroke-width="1.75"/>
<path d="M694.3 425.7 L700.0 431.9 L718.9 451.8 L737.9 471.6 L756.8 490.6 L769.1 501.0" fill="none" stroke="#000" stroke-width="1.75"/>
<path d="M774.8 507.6 C775.4 507.8 777.4 507.6 778.5 508.5 C779.7 509.5 780.3 510.9 781.4 513.3 C782.5 515.6 783.1 519.3 785.2 522.7 C787.2 526.2 792.3 532.0 793.7 533.9" fill="none" stroke="#000" stroke-width="1.75"/>
<path d="M728.4 430.9 L779.5 485.8" fill="none" stroke="#000" stroke-width="1.2"/>
<path d="M730.3 430.0 L780.4 483.9" fill="none" stroke="#000" stroke-width="1.2"/>
<path d="M746.4 448.0 L746.8 456.5" fill="none" stroke="#000" stroke-width="1.75"/>
<path d="M751.6 457.0 L779.0 486.8" fill="none" stroke="#000" stroke-width="1.2"/>
<path d="M745.4 430.0 L749.2 433.8 L749.7 437.6" fill="none" stroke="#000" stroke-width="1.75"/>
<path d="M750.2 432.8 L766.2 449.9 L780.4 464.1" fill="none" stroke="#000" stroke-width="1.75"/>
<path d="M767.2 430.0 L775.7 438.5 L787.1 448.0" fill="none" stroke="#000" stroke-width="1.75"/>
<path d="M782.3 492.5 C782.6 491.8 784.2 492.4 784.7 492.9 C785.2 493.5 785.5 495.1 785.2 495.8 C784.9 496.4 783.3 497.3 782.8 496.7 C782.3 496.2 782.0 493.1 782.3 492.5 Z" fill="none" stroke="#000" stroke-width="1.2"/>
<path d="M814.4 434.4 C816.5 433.6 826.5 429.6 830.0 428.4 C833.5 427.2 837.3 425.8 840.4 425.1 C843.6 424.3 850.4 422.8 853.7 422.7 C856.9 422.6 862.2 423.7 865.0 424.6 C867.8 425.5 872.1 427.8 874.5 429.3 C876.9 430.9 880.9 434.1 883.0 436.0 C885.1 437.9 888.8 441.5 890.6 443.5 C892.3 445.6 895.0 449.5 896.2 451.1 C897.5 452.7 899.5 455.2 900.0 455.8" fill="none" stroke="#000" stroke-width="1.75"/>
<path d="M841.4 427.9 C843.4 427.8 849.7 426.9 853.7 427.4 C857.6 428.0 861.5 429.5 865.0 431.2 C868.5 433.0 871.5 435.5 874.5 437.9 C877.5 440.2 880.9 443.8 883.0 445.4 C885.0 447.0 886.1 447.0 886.8 447.3" fill="none" stroke="#000" stroke-width="1.75"/>
<path d="M830.0 416.1 L840.4 425.1 L841.4 427.9 L830.0 432.2" fill="none" stroke="#000" stroke-width="1.75"/>
<path d="M853.7 411.4 L850.8 422.7" fill="none" stroke="#000" stroke-width="1.75"/>
<path d="M874.5 419.9 C875.9 421.1 880.2 424.9 883.0 427.4 C885.8 430.0 889.3 432.8 891.5 435.0 C893.7 437.2 894.9 439.4 896.2 440.7 C897.6 442.0 899.0 442.3 899.6 442.6" fill="none" stroke="#000" stroke-width="1.75"/>
<path d="M899.6 442.6 L897.2 449.2 L901.0 455.8" fill="none" stroke="#000" stroke-width="1.75"/>
<path d="M899.6 442.6 C901.1 443.2 912.2 448.4 915.2 449.2 C918.2 450.1 925.9 450.1 929.4 451.1 C932.8 452.1 947.9 458.3 950.0 459.1" fill="none" stroke="#000" stroke-width="1.75"/>
<path d="M929.9 443.9 L938.8 440.7 L952.1 441.6" fill="none" stroke="#000" stroke-width="1.75"/>
<path d="M936.9 450.2 L951.1 442.6 L953.0 446.4 L939.8 452.0" fill="none" stroke="#000" stroke-width="1.75"/>
<path d="M953.0 451.1 L958.7 451.6 L957.8 454.4 L953.5 453.9 Z" fill="#000" stroke="#000" stroke-width="1"/>
<path d="M938.8 453.0 L950.0 456.8" fill="none" stroke="#000" stroke-width="1.75"/>
<path d="M915.2 466.2 L950.0 478.9" fill="none" stroke="#000" stroke-width="1.75"/>
<path d="M896.2 422.2 L975.7 400.0" fill="none" stroke="#000" stroke-width="1.7" stroke-dasharray="7.5 5"/>
<path d="M896.2 422.2 L899.6 419.4" fill="none" stroke="#000" stroke-width="1.4"/>
<path d="M896.2 422.2 L900.5 422.7" fill="none" stroke="#000" stroke-width="1.4"/>
<path d="M847.0 449.2 C848.3 450.5 852.2 453.9 854.6 456.8 C857.0 459.6 860.1 464.7 861.2 466.2" fill="none" stroke="#000" stroke-width="1.75"/>
<path d="M834.7 451.1 C837.6 452.4 848.8 456.1 851.8 458.7 C854.8 461.2 851.9 462.6 852.7 466.2 C853.5 469.9 855.7 476.7 856.5 480.4 C857.3 484.2 857.3 487.5 857.4 489.0" fill="none" stroke="#000" stroke-width="1.75"/>
<path d="M861.4 477.6 L861.7 488.0" fill="none" stroke="#000" stroke-width="2.5"/>
<path d="M868.8 466.2 L894.4 458.7" fill="none" stroke="#000" stroke-width="1.75"/>
<path d="M869.7 492.7 L875.4 481.4 L877.3 490.8" fill="none" stroke="#000" stroke-width="1.75"/>
<path d="M881.1 483.3 L892.5 482.3 L890.6 494.6" fill="none" stroke="#000" stroke-width="1.75"/>
<path d="M881.1 483.3 L883.0 490.8 L886.8 485.2 L887.7 490.8" fill="none" stroke="#000" stroke-width="2.2"/>
<path d="M870.2 469.1 L873.5 470.5 L870.2 471.9 Z" fill="#000" stroke="#000" stroke-width="1.2"/>
<g clip-path="url(#cT7)">
<path d="M892.5 489.5 L909.0 495.6" fill="none" stroke="#000" stroke-width="1.75"/>
<path d="M915.2 497.5 L944.5 507.4 L942.6 513.1" fill="none" stroke="#000" stroke-width="1.75"/>
<path d="M874.5 497.0 L909.0 505.6" fill="none" stroke="#000" stroke-width="1.75"/>
<path d="M915.2 507.9 L934.6 514.1 L936.0 525.0" fill="none" stroke="#000" stroke-width="1.75"/>
<path d="M876.4 501.8 L906.7 513.6" fill="none" stroke="#000" stroke-width="1.75"/>
<path d="M861.2 511.2 L867.4 502.7 L875.4 500.3" fill="none" stroke="#000" stroke-width="1.75"/>
<path d="M861.2 512.6 L886.8 519.3" fill="none" stroke="#000" stroke-width="1.75"/>
<path d="M888.7 526.4 L909.0 533.0" fill="none" stroke="#000" stroke-width="1.75"/>
<path d="M898.1 523.5 L909.0 526.8" fill="none" stroke="#000" stroke-width="1.75"/>
<path d="M854.6 530.2 L863.1 519.7 L872.6 518.3" fill="none" stroke="#000" stroke-width="1.75"/>
<path d="M864.1 532.5 L861.2 537.7 L862.2 539.6" fill="none" stroke="#000" stroke-width="1.75"/>
<path d="M864.1 532.5 L909.0 544.4" fill="none" stroke="#000" stroke-width="1.75"/>
<path d="M862.2 539.6 L909.0 554.8" fill="none" stroke="#000" stroke-width="1.75"/>
<path d="M830.0 550.0 C831.4 549.9 840.4 547.8 844.2 548.6 C848.0 549.5 861.4 556.2 867.9 558.5 C874.3 560.9 900.2 569.7 909.0 572.3 C917.8 574.8 949.1 582.2 955.9 583.9 C962.6 585.6 974.2 588.5 976.2 589.0" fill="none" stroke="#000" stroke-width="1.75"/>
<path d="M915.2 516.4 L935.5 525.0" fill="none" stroke="#000" stroke-width="1.75"/>
<path d="M942.6 513.1 L943.1 524.5 L936.9 524.5" fill="none" stroke="#000" stroke-width="1.75"/>
<path d="M943.1 516.9 L975.7 524.7" fill="none" stroke="#000" stroke-width="1.75"/>
<path d="M937.9 524.5 L975.7 534.3" fill="none" stroke="#000" stroke-width="1.75"/>
<path d="M915.2 527.8 L931.7 533.9 L933.2 542.5" fill="none" stroke="#000" stroke-width="1.75"/>
<path d="M915.2 535.8 L933.2 542.5" fill="none" stroke="#000" stroke-width="1.75"/>
<path d="M939.8 535.8 L940.2 543.4 L935.0 542.5" fill="none" stroke="#000" stroke-width="1.75"/>
<path d="M939.8 535.8 L975.7 542.7" fill="none" stroke="#000" stroke-width="1.75"/>
<path d="M940.2 543.4 L975.7 553.2" fill="none" stroke="#000" stroke-width="1.75"/>
<path d="M915.2 546.2 L928.4 551.0 L929.4 561.9" fill="none" stroke="#000" stroke-width="1.75"/>
<path d="M915.2 557.1 L928.9 561.9" fill="none" stroke="#000" stroke-width="1.75"/>
<path d="M936.9 551.9 L937.4 561.9 L931.3 561.4" fill="none" stroke="#000" stroke-width="1.75"/>
<path d="M936.9 552.9 L975.7 561.3" fill="none" stroke="#000" stroke-width="1.75"/>
<path d="M937.4 561.9 L975.7 571.5" fill="none" stroke="#000" stroke-width="1.75"/>
<path d="M947.3 480.0 L980.0 489.5" fill="none" stroke="#000" stroke-width="1.75"/>
<path d="M949.2 504.6 L977.6 512.2 L972.0 521.6 L943.6 515.0" fill="none" stroke="#000" stroke-width="1.75"/>
<path d="M947.3 507.4 L949.2 511.2 L943.6 515.0" fill="none" stroke="#000" stroke-width="1.75"/>
<path d="M955.9 510.3 L971.0 514.5 L969.6 517.9 L956.8 514.1 L955.9 510.3" fill="none" stroke="#000" stroke-width="1.2"/>
<path d="M830.0 520.7 C831.3 521.3 835.2 524.2 837.6 524.5 C839.9 524.8 842.0 523.8 844.2 522.6 C846.4 521.3 849.4 518.5 850.8 516.9 C852.2 515.3 852.4 513.8 852.7 513.1" fill="none" stroke="#000" stroke-width="1.75"/>
<path d="M831.9 526.4 C833.0 526.7 836.2 528.4 838.5 528.3 C840.9 528.1 843.7 526.8 846.1 525.4 C848.5 524.0 851.0 522.1 852.7 519.7 C854.4 517.4 855.6 514.7 856.5 511.2 C857.4 507.8 858.1 502.2 858.4 498.9 C858.7 495.6 858.4 492.6 858.4 491.4" fill="none" stroke="#000" stroke-width="1.75"/>
<path d="M830.0 535.8 C831.6 535.5 836.3 535.0 839.5 533.9 C842.6 532.8 846.2 531.3 848.9 529.2 C851.6 527.2 853.8 524.5 855.6 521.6 C857.3 518.8 858.3 516.0 859.3 512.2 C860.4 508.4 861.3 502.4 861.7 498.9 C862.1 495.5 861.7 492.6 861.7 491.4" fill="none" stroke="#000" stroke-width="1.75"/>
<path d="M830.0 541.5 C831.3 541.4 834.7 541.4 837.6 540.6 C840.4 539.8 844.2 538.5 847.0 536.8 C849.9 535.0 853.3 531.3 854.6 530.2" fill="none" stroke="#000" stroke-width="1.75"/>
<path d="M837.6 540.6 L859.3 538.7" fill="none" stroke="#000" stroke-width="1.75"/>
</g>
<path d="M1053.3 601.7 C1054.5 601.6 1065.7 601.7 1068.4 600.3 C1071.2 598.9 1084.0 587.1 1086.4 585.2 C1088.8 583.3 1094.7 579.3 1096.8 577.6 C1098.9 575.9 1110.0 566.8 1112.0 565.3 C1113.9 563.8 1119.3 560.1 1120.0 559.6" fill="none" stroke="#000" stroke-width="1.75"/>
<path d="M1120.0 559.6 L1125.5 556.4 L1136.4 549.1 L1143.7 549.1" fill="none" stroke="#000" stroke-width="1.75"/>
<path d="M1041.0 603.9 L1065.5 609.1 L1072.8 607.8 L1074.6 604.6 L1080.0 600.1 L1098.2 585.5 L1116.4 573.7 L1130.7 563.9" fill="none" stroke="#000" stroke-width="1.75"/>
<path d="M1082.0 588.0 L1095.5 578.2 L1107.3 568.2 L1123.7 557.3 L1134.6 550.0" fill="none" stroke="#000" stroke-width="1.2"/>
<path d="M1080.0 574.8 L1098.2 578.2" fill="none" stroke="#000" stroke-width="1.75"/>
<path d="M1080.0 560.8 L1111.8 565.5" fill="none" stroke="#000" stroke-width="1.75"/>
<g clip-path="url(#cT8)">
<path d="M1007.9 500.0 L1045.7 512.3 L1083.6 521.8 L1120.0 525.6" fill="none" stroke="#000" stroke-width="1.75"/>
<path d="M1050.4 500.0 L1083.6 508.5 L1120.0 516.1" fill="none" stroke="#000" stroke-width="1.75"/>
<path d="M978.0 515.6 L1023.0 526.0" fill="none" stroke="#000" stroke-width="1.75"/>
<path d="M1021.6 532.6 L1025.8 526.5 L1027.7 531.2" fill="none" stroke="#000" stroke-width="1.75"/>
<path d="M1030.6 525.6 L1059.0 531.7 L1055.2 539.7 L1024.9 533.1" fill="none" stroke="#000" stroke-width="1.75"/>
<path d="M1036.2 530.8 L1051.4 533.1 L1049.5 536.0 L1036.2 532.6 L1036.2 530.8" fill="none" stroke="#000" stroke-width="1.2"/>
<path d="M970.0 522.2 L1009.7 532.6 L1010.2 544.0" fill="none" stroke="#000" stroke-width="1.75"/>
<path d="M1017.8 534.5 L1017.3 543.5 L1012.1 543.5" fill="none" stroke="#000" stroke-width="1.75"/>
<path d="M1017.8 534.5 L1055.2 540.7 L1079.8 546.4 L1080.2 553.9" fill="none" stroke="#000" stroke-width="1.75"/>
<path d="M1059.9 534.5 L1095.9 538.8 L1120.0 541.2" fill="none" stroke="#000" stroke-width="1.75"/>
<path d="M1080.2 546.8 L1120.0 553.0" fill="none" stroke="#000" stroke-width="1.75"/>
<path d="M1080.2 553.9 L1120.0 560.6" fill="none" stroke="#000" stroke-width="1.75"/>
<path d="M970.0 533.1 L1009.7 544.0" fill="none" stroke="#000" stroke-width="1.75"/>
<path d="M970.0 541.6 L1006.0 551.1 L1006.4 562.9" fill="none" stroke="#000" stroke-width="1.75"/>
<path d="M970.0 553.0 L1005.5 562.5" fill="none" stroke="#000" stroke-width="1.75"/>
<path d="M1006.0 551.1 L1015.0 553.0 L1014.5 562.5 L1008.3 562.9" fill="none" stroke="#000" stroke-width="1.75"/>
<path d="M970.0 560.1 L1002.2 568.6 L1003.1 580.4" fill="none" stroke="#000" stroke-width="1.75"/>
<path d="M970.0 570.0 L1002.6 580.0" fill="none" stroke="#000" stroke-width="1.75"/>
<path d="M1002.2 568.6 L1010.7 571.0 L1010.9 579.5 L1005.5 580.0" fill="none" stroke="#000" stroke-width="1.75"/>
<path d="M947.3 580.6 L970.0 587.1 L1041.0 603.9" fill="none" stroke="#000" stroke-width="1.75"/>
<path d="M1017.3 543.5 L1078.8 553.9 L1112.0 561.5" fill="none" stroke="#000" stroke-width="1.75"/>
<path d="M1015.0 553.0 L1037.7 555.8 L1040.0 567.2" fill="none" stroke="#000" stroke-width="1.75"/>
<path d="M1014.5 562.5 L1040.0 567.2 L1095.9 578.5" fill="none" stroke="#000" stroke-width="1.75"/>
<path d="M1040.0 556.8 L1112.0 565.3 L1120.0 566.2" fill="none" stroke="#000" stroke-width="1.75"/>
<path d="M1010.7 571.0 L1034.4 575.2 L1034.8 583.8" fill="none" stroke="#000" stroke-width="1.75"/>
<path d="M1010.9 579.5 C1013.3 579.9 1029.1 582.7 1034.8 583.8 C1040.6 584.8 1063.3 589.9 1068.4 589.9 C1073.6 589.9 1084.6 584.8 1086.4 584.2" fill="none" stroke="#000" stroke-width="1.75"/>
<path d="M1034.8 575.7 L1092.1 584.2" fill="none" stroke="#000" stroke-width="1.75"/>
</g>
<g clip-path="url(#cT9)">
<path d="M1090.0 500.7 C1091.1 500.6 1099.0 499.3 1101.4 499.3 C1103.7 499.3 1111.0 500.4 1113.7 500.7 C1116.3 501.0 1125.3 502.3 1127.9 502.6 C1130.4 502.8 1137.3 503.2 1139.2 503.1 C1141.1 503.0 1145.2 501.7 1146.8 501.6 C1148.4 501.5 1154.4 502.1 1155.3 502.1" fill="none" stroke="#000" stroke-width="1.75"/>
<path d="M1090.0 503.1 L1113.7 506.4 L1116.5 509.2 L1090.0 507.3" fill="none" stroke="#000" stroke-width="1.75"/>
<path d="M1116.5 511.1 L1146.8 502.6" fill="none" stroke="#000" stroke-width="1.75"/>
<path d="M1090.0 509.2 L1116.5 511.6 L1146.8 516.8 L1170.4 520.6 L1188.4 520.6 L1190.3 516.8" fill="none" stroke="#000" stroke-width="1.75"/>
<path d="M1147.7 503.5 L1148.2 514.9 L1175.2 504.5" fill="none" stroke="#000" stroke-width="1.75"/>
<path d="M1154.4 507.3 L1158.1 509.2 L1163.8 508.3" fill="none" stroke="#000" stroke-width="2.0"/>
<path d="M1162.9 505.0 L1175.2 505.4 L1179.0 503.5" fill="none" stroke="#000" stroke-width="1.75"/>
<path d="M1173.3 508.3 L1188.4 518.7" fill="none" stroke="#000" stroke-width="1.75"/>
<path d="M1177.1 505.4 L1191.3 516.8" fill="none" stroke="#000" stroke-width="1.75"/>
<path d="M1179.0 504.0 L1195.0 515.8" fill="none" stroke="#000" stroke-width="1.75"/>
<path d="M1185.6 501.2 C1186.7 501.3 1191.7 501.7 1194.1 502.1 C1196.5 502.6 1201.3 503.9 1203.6 504.5 C1205.8 505.0 1209.7 505.7 1211.1 506.4 C1212.5 507.0 1213.7 508.3 1214.0 509.2 C1214.2 510.1 1214.0 512.2 1213.0 513.0 C1212.0 513.8 1208.7 514.4 1206.4 514.9 C1204.1 515.4 1197.4 516.5 1196.0 516.8" fill="none" stroke="#000" stroke-width="1.75"/>
<path d="M1196.0 516.8 L1193.2 520.6 L1188.4 522.5 L1179.0 524.4 L1175.2 529.1 L1172.3 534.8 L1168.5 537.6 L1156.2 540.4 L1152.5 543.3 L1151.5 548.0 L1148.7 550.8 L1139.2 557.5 L1130.7 563.9" fill="none" stroke="#000" stroke-width="1.75"/>
<path d="M1190.3 509.2 C1190.3 508.3 1191.9 507.0 1194.1 506.6 C1196.3 506.1 1201.4 506.0 1203.6 506.4 C1205.8 506.7 1207.0 507.9 1207.3 508.7 C1207.7 509.6 1207.7 511.0 1205.5 511.6 C1203.2 512.1 1196.6 512.4 1194.1 512.0 C1191.6 511.7 1190.3 510.1 1190.3 509.2 Z" fill="none" stroke="#000" stroke-width="1.75"/>
<path d="M1090.0 522.5 L1118.4 526.2 L1151.5 531.0 L1153.4 533.3" fill="none" stroke="#000" stroke-width="1.75"/>
<path d="M1152.5 531.0 L1156.2 525.8 L1165.7 526.2 L1168.5 529.1 L1167.6 533.8 L1161.9 534.8" fill="none" stroke="#000" stroke-width="1.75"/>
<path d="M1090.0 538.5 L1147.7 538.5" fill="none" stroke="#000" stroke-width="1.75"/>
<path d="M1090.0 541.4 L1114.6 542.3" fill="none" stroke="#000" stroke-width="1.75"/>
<path d="M1114.6 546.6 L1121.2 540.4 L1146.8 539.5 L1145.8 547.1 L1114.6 546.6" fill="none" stroke="#000" stroke-width="1.75"/>
<path d="M1130.7 540.4 L1146.8 539.5 L1146.0 543.8 L1141.1 544.2 L1139.2 541.4 L1131.6 542.3 Z" fill="#000" stroke="#000" stroke-width="1"/>
<path d="M1090.0 547.1 L1113.7 547.5" fill="none" stroke="#000" stroke-width="1.75"/>
<path d="M1090.0 553.7 L1126.0 556.5 L1135.4 549.0 L1144.9 548.0" fill="none" stroke="#000" stroke-width="1.75"/>
</g>
<g clip-path="url(#cT10)">
<path d="M952.1 441.6 C952.3 441.7 953.2 442.6 953.8 443.2 C954.3 443.8 956.7 446.8 957.6 447.4 C958.4 448.1 961.5 448.6 962.3 449.3 C963.1 450.1 963.5 453.9 965.1 455.0 C966.8 456.2 975.0 459.2 978.4 460.7 C981.8 462.2 995.0 468.5 999.2 470.2 C1003.5 471.9 1016.4 476.1 1021.0 477.7 C1025.5 479.4 1040.0 484.9 1044.6 486.5 C1049.3 488.2 1062.7 492.7 1067.3 494.1 C1072.0 495.5 1088.6 500.3 1091.0 501.0" fill="none" stroke="#000" stroke-width="1.75"/>
<path d="M950.0 455.0 L968.9 459.7 L999.2 473.0 L1002.0 474.9 L1025.7 484.4 L1032.3 484.4 L1035.2 487.2 L1062.7 496.4 L1083.7 501.8 L1091.0 503.1" fill="none" stroke="#000" stroke-width="1.75"/>
<path d="M950.0 459.7 C954.3 461.4 985.0 473.7 992.6 476.8 C1000.2 479.9 1018.6 487.9 1025.7 490.5 C1032.8 493.2 1056.1 501.1 1063.6 503.3 C1071.0 505.4 1096.4 510.9 1100.0 511.8" fill="none" stroke="#000" stroke-width="1.75"/>
<path d="M950.0 479.6 C953.8 481.1 980.3 492.3 987.9 494.8 C995.4 497.3 1018.1 502.6 1025.7 504.7 C1033.3 506.8 1056.9 513.7 1063.6 515.6 C1070.2 517.5 1089.1 523.1 1092.0 523.9" fill="none" stroke="#000" stroke-width="1.75"/>
<path d="M950.0 504.2 L978.4 511.8 L973.7 520.3" fill="none" stroke="#000" stroke-width="1.75"/>
<path d="M956.6 510.8 L969.9 514.6 L968.9 517.5 L957.6 513.7 L956.6 510.8" fill="none" stroke="#000" stroke-width="1.2"/>
<path d="M978.4 515.6 L1014.4 523.9" fill="none" stroke="#000" stroke-width="1.75"/>
<path d="M952.8 452.6 L959.0 452.2 L958.5 454.5 L953.8 455.0 Z" fill="#000" stroke="#000" stroke-width="1"/>
</g>
<path d="M890.1 124.5 L892.1 123.3 L896.9 122.0 L901.7 123.3 L903.7 124.5 L903.7 133.6 L890.1 133.6 L890.1 124.5" fill="none" stroke="#000" stroke-width="1.5"/>
<path d="M896.9 129.8 L896.9 133.3" fill="none" stroke="#000" stroke-width="1.3"/>
<path d="M892.6 126.5 L896.9 129.8 L901.7 126.5" fill="none" stroke="#000" stroke-width="1.3"/>
<ellipse cx="896.9" cy="132.3" rx="10.7" ry="5.0" fill="none" stroke="#000" stroke-width="1.5"/>
<path d="M892.1 137.8 L892.9 141.6 L893.1 150.6 L894.6 153.7 L896.9 154.7 L899.2 153.7 L900.7 150.6 L900.9 141.6 L902.7 137.8" fill="none" stroke="#000" stroke-width="1.5"/>
<path d="M892.9 141.6 L900.9 141.6" fill="none" stroke="#000" stroke-width="1.3"/>
<path d="M893.4 144.6 L900.4 144.6" fill="none" stroke="#000" stroke-width="1.3"/>
<path d="M893.4 148.1 L900.4 147.6" fill="none" stroke="#000" stroke-width="1.3"/>
<path d="M894.6 151.6 L899.7 151.1" fill="none" stroke="#000" stroke-width="1.3"/>
<path d="M742.3 135.8 L744.2 134.6 L748.7 133.4 L753.2 134.6 L755.1 135.8 L755.1 144.4 L742.3 144.4 L742.3 135.8" fill="none" stroke="#000" stroke-width="1.5"/>
<path d="M748.7 140.8 L748.7 144.1" fill="none" stroke="#000" stroke-width="1.3"/>
<path d="M744.6 137.7 L748.7 140.8 L753.2 137.7" fill="none" stroke="#000" stroke-width="1.3"/>
<ellipse cx="748.7" cy="143.2" rx="10.1" ry="4.8" fill="none" stroke="#000" stroke-width="1.5"/>
<path d="M744.2 148.4 L744.9 152.0 L745.1 160.6 L746.6 163.5 L748.7 164.4 L750.8 163.5 L752.3 160.6 L752.5 152.0 L754.2 148.4" fill="none" stroke="#000" stroke-width="1.5"/>
<path d="M744.9 152.0 L752.5 152.0" fill="none" stroke="#000" stroke-width="1.3"/>
<path d="M745.4 154.9 L752.0 154.9" fill="none" stroke="#000" stroke-width="1.3"/>
<path d="M745.4 158.2 L752.0 157.7" fill="none" stroke="#000" stroke-width="1.3"/>
<path d="M746.6 161.6 L751.3 161.1" fill="none" stroke="#000" stroke-width="1.3"/>
<path d="M1152.6 161.7 L1154.5 160.5 L1159.0 159.3 L1163.5 160.5 L1165.4 161.7 L1165.4 170.3 L1152.6 170.3 L1152.6 161.7" fill="none" stroke="#000" stroke-width="1.5"/>
<path d="M1159.0 166.7 L1159.0 170.0" fill="none" stroke="#000" stroke-width="1.3"/>
<path d="M1154.9 163.6 L1159.0 166.7 L1163.5 163.6" fill="none" stroke="#000" stroke-width="1.3"/>
<ellipse cx="1159.0" cy="169.1" rx="10.1" ry="4.8" fill="none" stroke="#000" stroke-width="1.5"/>
<path d="M1154.5 174.3 L1155.2 177.9 L1155.4 186.5 L1156.9 189.4 L1159.0 190.3 L1161.1 189.4 L1162.6 186.5 L1162.8 177.9 L1164.5 174.3" fill="none" stroke="#000" stroke-width="1.5"/>
<path d="M1155.2 177.9 L1162.8 177.9" fill="none" stroke="#000" stroke-width="1.3"/>
<path d="M1155.7 180.8 L1162.3 180.8" fill="none" stroke="#000" stroke-width="1.3"/>
<path d="M1155.7 184.1 L1162.3 183.6" fill="none" stroke="#000" stroke-width="1.3"/>
<path d="M1156.9 187.5 L1161.6 187.0" fill="none" stroke="#000" stroke-width="1.3"/>
<ellipse cx="755.3" cy="67.0" rx="11" ry="4.7" fill="#fff" stroke="#000" stroke-width="1.5"/>
<path d="M749.5 62.3 C749.4 62.0 748.4 60.9 748.5 60.3 C748.6 59.7 748.9 59.2 750.0 58.8 C751.2 58.4 753.5 57.9 755.3 57.9 C757.1 57.9 759.4 58.4 760.6 58.8 C761.7 59.2 761.9 59.7 762.1 60.3 C762.3 60.9 761.7 62.0 761.6 62.3" fill="none" stroke="#000" stroke-width="1.5"/>
<path d="M751.5 61.8 L752.0 59.8 L758.6 59.8 L760.1 61.8" fill="none" stroke="#000" stroke-width="1.2"/>
<path d="M753.3 63.6 L753.3 67.9 L757.6 67.9 L757.6 63.6 L753.3 63.6" fill="none" stroke="#000" stroke-width="1.2"/>
<path d="M749.0 64.8 L751.0 65.3 L751.5 67.4" fill="none" stroke="#000" stroke-width="1.1"/>
<path d="M761.1 64.8 L759.6 65.3 L759.1 67.4" fill="none" stroke="#000" stroke-width="1.1"/>
<path d="M750.5 71.9 L751.0 78.9 L753.0 83.4 L755.3 84.4 L757.6 83.4 L760.8 78.4 L761.1 71.9" fill="none" stroke="#000" stroke-width="1.5"/>
<path d="M752.5 72.9 L752.5 78.9 L758.1 78.9" fill="none" stroke="#000" stroke-width="1.2"/>
<path d="M754.5 76.9 L757.6 73.4" fill="none" stroke="#000" stroke-width="1.8"/>
<ellipse cx="1182.3" cy="102.6" rx="11" ry="4.7" fill="#fff" stroke="#000" stroke-width="1.5"/>
<path d="M1176.5 97.9 C1176.4 97.6 1175.4 96.5 1175.5 95.9 C1175.6 95.3 1175.9 94.8 1177.0 94.4 C1178.2 94.0 1180.5 93.5 1182.3 93.5 C1184.1 93.5 1186.4 94.0 1187.6 94.4 C1188.7 94.8 1188.9 95.3 1189.1 95.9 C1189.3 96.5 1188.7 97.6 1188.6 97.9" fill="none" stroke="#000" stroke-width="1.5"/>
<path d="M1178.5 97.4 L1179.0 95.4 L1185.6 95.4 L1187.1 97.4" fill="none" stroke="#000" stroke-width="1.2"/>
<path d="M1180.3 99.2 L1180.3 103.5 L1184.6 103.5 L1184.6 99.2 L1180.3 99.2" fill="none" stroke="#000" stroke-width="1.2"/>
<path d="M1176.0 100.4 L1178.0 100.9 L1178.5 103.0" fill="none" stroke="#000" stroke-width="1.1"/>
<path d="M1188.1 100.4 L1186.6 100.9 L1186.1 103.0" fill="none" stroke="#000" stroke-width="1.1"/>
<path d="M1177.5 107.5 L1178.0 114.5 L1180.0 119.0 L1182.3 120.0 L1184.6 119.0 L1187.8 114.0 L1188.1 107.5" fill="none" stroke="#000" stroke-width="1.5"/>
<path d="M1179.5 108.5 L1179.5 114.5 L1185.1 114.5" fill="none" stroke="#000" stroke-width="1.2"/>
<path d="M1181.5 112.5 L1184.6 109.0" fill="none" stroke="#000" stroke-width="1.8"/>
<ellipse cx="877.9" cy="317.2" rx="11" ry="4.7" fill="#fff" stroke="#000" stroke-width="1.5"/>
<path d="M872.1 312.5 C872.0 312.2 871.0 311.1 871.1 310.5 C871.2 309.9 871.5 309.4 872.6 309.0 C873.8 308.6 876.1 308.1 877.9 308.1 C879.7 308.1 882.0 308.6 883.2 309.0 C884.3 309.4 884.5 309.9 884.7 310.5 C884.9 311.1 884.3 312.2 884.2 312.5" fill="none" stroke="#000" stroke-width="1.5"/>
<path d="M874.1 312.0 L874.6 310.0 L881.2 310.0 L882.7 312.0" fill="none" stroke="#000" stroke-width="1.2"/>
<path d="M875.9 313.8 L875.9 318.1 L880.2 318.1 L880.2 313.8 L875.9 313.8" fill="none" stroke="#000" stroke-width="1.2"/>
<path d="M871.6 315.0 L873.6 315.5 L874.1 317.6" fill="none" stroke="#000" stroke-width="1.1"/>
<path d="M883.7 315.0 L882.2 315.5 L881.7 317.6" fill="none" stroke="#000" stroke-width="1.1"/>
<path d="M873.1 322.1 L873.6 329.1 L875.6 333.6 L877.9 334.6 L880.2 333.6 L883.4 328.6 L883.7 322.1" fill="none" stroke="#000" stroke-width="1.5"/>
<path d="M875.1 323.1 L875.1 329.1 L880.7 329.1" fill="none" stroke="#000" stroke-width="1.2"/>
<path d="M877.1 327.1 L880.2 323.6" fill="none" stroke="#000" stroke-width="1.8"/>
<path d="M950.3 633.6 C950.4 632.9 950.6 630.9 951.3 629.6 C951.9 628.3 953.2 626.8 954.3 626.1 C955.4 625.3 956.5 625.0 957.8 625.1 C959.0 625.2 960.7 625.7 961.8 626.6 C962.9 627.4 963.8 628.7 964.3 630.1 C964.8 631.5 964.9 633.3 964.8 635.1 C964.7 637.0 964.3 639.5 963.8 641.2 C963.3 642.8 962.9 644.3 961.8 645.2 C960.7 646.1 958.0 646.4 957.3 646.7" fill="none" stroke="#000" stroke-width="1.5"/>
<path d="M957.3 646.7 L953.3 642.2" fill="none" stroke="#000" stroke-width="1.5"/>
<path d="M964.3 628.6 C964.7 628.6 966.1 627.8 966.8 628.3 C967.6 628.8 968.3 630.5 968.8 631.6 C969.3 632.7 969.8 634.0 969.8 635.1 C969.9 636.3 969.8 637.8 969.3 638.6 C968.9 639.5 968.0 639.2 967.3 640.2 C966.7 641.1 966.2 643.2 965.3 644.2 C964.5 645.1 962.8 645.6 962.3 645.9" fill="none" stroke="#000" stroke-width="1.5"/>
<path d="M960.3 627.1 C960.7 627.8 962.3 629.6 962.8 631.1 C963.3 632.6 963.5 634.3 963.4 636.1 C963.4 638.0 962.7 641.2 962.6 642.2" fill="none" stroke="#000" stroke-width="1.2"/>
<path d="M950.3 633.6 L958.3 633.1 L958.5 640.2 L950.8 641.2 L945.2 642.2 L943.2 639.6 L945.2 635.6 L950.3 633.6" fill="#fff" stroke="#000" stroke-width="1.5"/>
<path d="M947.2 636.1 L948.2 640.9" fill="none" stroke="#000" stroke-width="1.3"/>
<path d="M950.3 635.1 L950.8 640.9" fill="none" stroke="#000" stroke-width="1.3"/>
<path d="M952.8 634.6 L953.3 640.7" fill="none" stroke="#000" stroke-width="1.3"/>
<path d="M955.3 634.1 L955.8 640.4" fill="none" stroke="#000" stroke-width="1.3"/>
<path d="M793.7 533.5 C794.1 534.0 794.1 534.6 796.4 536.4 C798.7 538.3 802.8 542.3 807.3 544.6 C811.9 546.9 819.8 549.1 823.7 550.1 C827.6 551.0 829.4 550.2 830.5 550.2" fill="none" stroke="#000" stroke-width="1.75"/>
<path d="M816.9 537.5 C818.0 537.9 821.5 539.1 823.7 539.7 C825.9 540.3 829.2 541.0 830.2 541.2" fill="none" stroke="#000" stroke-width="1.75"/>
<path d="M770.7 430.4 L774.0 421.0 L776.3 418.6 L778.7 421.9 L784.4 442.7" fill="none" stroke="#000" stroke-width="1.5"/>
<path d="M772.1 431.4 L779.6 429.5 L786.3 435.2" fill="none" stroke="#000" stroke-width="1.5"/>
<path d="M781.5 420.5 L788.6 422.9 L786.7 426.2 L782.0 424.8" fill="none" stroke="#000" stroke-width="1.4"/>
<path d="M775.9 425.7 L782.5 426.7 L786.3 431.4 L783.4 435.2" fill="none" stroke="#000" stroke-width="1.4"/>
<path d="M789.1 434.2 L794.8 429.5 L798.6 429.0" fill="none" stroke="#000" stroke-width="1.4"/>
<path d="M792.0 435.2 L795.7 431.4" fill="none" stroke="#000" stroke-width="1.4"/>
<path d="M808.0 526.1 L820.6 522.3 L826.9 523.6 L828.1 529.2 L818.1 533.0" fill="none" stroke="#000" stroke-width="1.5"/>
<path d="M820.6 522.3 L825.6 526.7 L819.3 530.5" fill="none" stroke="#000" stroke-width="1.8"/>
<path d="M790.5 507.9 L793.6 514.4 L804.3 510.2" fill="none" stroke="#000" stroke-width="1.5"/>
<path d="M786.7 504.1 L790.5 510.4 L793.6 516.7" fill="none" stroke="#000" stroke-width="1.4"/>
<path d="M800.5 462.9 C800.0 462.9 799.2 466.2 799.0 467.7 C798.8 469.2 799.1 471.0 799.5 472.1 C799.9 473.1 801.1 474.7 801.5 474.0 C801.9 473.2 802.2 469.5 802.0 467.7 C801.8 465.8 801.0 462.9 800.5 462.9 Z" fill="none" stroke="#000" stroke-width="1.3"/>
<path d="M795.5 485.3 L800.5 480.3 L804.3 477.7" fill="none" stroke="#000" stroke-width="1.4"/>
<path d="M802.0 456.4 L804.5 457.1 L803.3 459.6" fill="none" stroke="#000" stroke-width="1.3"/>
<path d="M815.6 448.8 L825.6 442.6 L827.1 445.7" fill="none" stroke="#000" stroke-width="1.8"/>
<path d="M818.1 452.6 L822.5 451.4" fill="none" stroke="#000" stroke-width="1.4"/>
<path d="M854.5 460.2 L859.5 465.2 L862.3 468.9" fill="none" stroke="#000" stroke-width="1.4"/>
<path d="M831.9 525.5 L840.7 528.0 L848.2 526.7" fill="none" stroke="#000" stroke-width="1.4"/>
<path d="M1050.2 410.2 L1054.0 408.3 L1060.3 407.3 L1064.0 408.9 L1074.1 414.6 L1071.6 417.7 L1060.3 420.3 L1057.7 422.8 L1052.7 425.9 L1040.2 432.2 L1038.3 436.0 L1035.1 437.2 L1032.6 435.3 L1031.4 431.6 L1033.2 427.2 L1035.1 425.3 L1046.4 420.3 L1048.9 418.4 L1050.2 410.2" fill="none" stroke="#000" stroke-width="1.6"/>
<path d="M1060.9 414.0 C1061.0 413.2 1062.3 412.0 1063.4 411.8 C1064.4 411.7 1066.6 412.3 1067.2 413.0 C1067.7 413.6 1067.3 415.3 1066.5 415.9 C1065.8 416.4 1063.7 416.5 1062.8 416.2 C1061.8 415.9 1060.8 414.7 1060.9 414.0 Z" fill="none" stroke="#000" stroke-width="1.3"/>
<path d="M1033.9 432.8 C1033.8 431.9 1034.5 430.5 1035.1 430.3 C1035.8 430.1 1037.2 430.8 1037.6 431.6 C1038.1 432.3 1038.0 434.0 1037.6 434.7 C1037.3 435.4 1036.0 436.3 1035.4 436.0 C1034.7 435.6 1033.9 433.8 1033.9 432.8 Z" fill="none" stroke="#000" stroke-width="1.3"/>
<path d="M1051.5 420.3 L1055.9 417.7" fill="none" stroke="#000" stroke-width="1.3"/>
<path d="M1047.7 423.4 L1052.1 424.3" fill="none" stroke="#000" stroke-width="1.6"/>
</svg>
</body></html>
